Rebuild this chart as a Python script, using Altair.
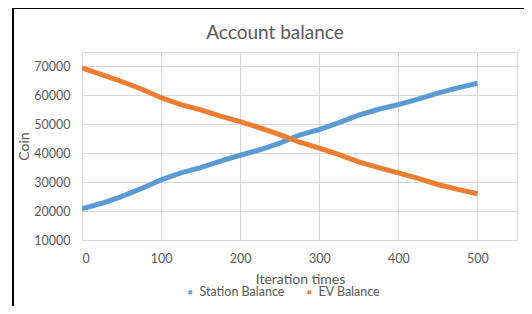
import altair as alt
import pandas as pd

iterations = [0, 25, 50, 75, 100, 125, 150, 175, 200, 225, 250,
              275, 300, 325, 350, 375, 400, 425, 450, 475, 500]
station_balance = [20800, 22700, 25000, 27800, 30800, 33200, 35000, 37300, 39300, 41200, 43500,
                   46300, 48200, 50600, 53200, 55200, 56800, 58700, 60800, 62600, 64200]
ev_balance = [69500, 67200, 64800, 62200, 59200, 56800, 55000, 52800, 50900, 48800, 46400,
              43800, 41800, 39500, 37000, 35000, 33200, 31300, 29200, 27500, 26000]
series_names = ["Station Balance", "EV Balance"]
series_colors = ["#5B9BD5", "#ED7D31"]
x_ticks = [0, 100, 200, 300, 400, 500]
y_ticks = [10000, 20000, 30000, 40000, 50000, 60000, 70000]
chart_title = "Account balance"

rows = []
for i, it in enumerate(iterations):
    rows.append({"iter": it, "value": station_balance[i], "series": series_names[0]})
    rows.append({"iter": it, "value": ev_balance[i], "series": series_names[1]})
df = pd.DataFrame(rows)

FONT = "Lato"
GREY = "#595959"
XSHAPE = "M-1,-1L1,1M1,-1L-1,1"

axis_style = dict(grid=True, gridColor="#D9D9D9", domainColor="#D9D9D9", tickSize=0,
                  labelFont=FONT, labelFontSize=12.5, labelColor=GREY, labelPadding=12,
                  titleFont=FONT, titleFontSize=14, titleColor=GREY,
                  titleFontWeight="normal", titleBaseline="middle")

lines = alt.Chart(df).mark_line(strokeWidth=5, clip=True).encode(
    x=alt.X("iter:Q", scale=alt.Scale(domain=[0, 550], nice=False),
            axis=alt.Axis(values=x_ticks, title="Iteration times",
                          titleX=218, titleY=39, **axis_style)),
    y=alt.Y("value:Q", scale=alt.Scale(domain=[10000, 75000], nice=False, zero=False),
            axis=alt.Axis(values=y_ticks, title="Coin", format="d",
                          titleX=-58, titleY=94, titleAlign="center", **axis_style)),
    color=alt.Color("series:N", scale=alt.Scale(domain=series_names, range=series_colors),
                    sort=series_names,
                    legend=alt.Legend(title=None, orient="none", direction="horizontal",
                                      legendX=102, legendY=234, symbolType=XSHAPE,
                                      symbolSize=12, symbolStrokeWidth=1.5,
                                      labelFontSize=12.5, labelColor=GREY, labelFont=FONT,
                                      columnPadding=18, labelOffset=3)),
)

one_row = pd.DataFrame({"label": [chart_title]})
title_text = alt.Chart(one_row).mark_text(
    font=FONT, fontSize=19, color=GREY, baseline="middle", align="center"
).encode(x=alt.value(193), y=alt.value(-19), text="label:N")

left_edge = alt.Chart(one_row).mark_rule(color="black", strokeWidth=2).encode(
    x=alt.value(-69), y=alt.value(-45), y2=alt.value(320))
top_edge = alt.Chart(one_row).mark_rule(color="black", strokeWidth=2).encode(
    x=alt.value(-70), x2=alt.value(500), y=alt.value(-44))

chart = alt.layer(lines, title_text, left_edge, top_edge).properties(
    width=435, height=188,
    autosize=alt.AutoSizeParams(type="none"),
    padding={"left": 74, "top": 44, "right": 7, "bottom": 66},
).configure_view(stroke=None).configure(background="white")

chart.save("out.html", embed_options={"renderer": "svg", "actions": False})
